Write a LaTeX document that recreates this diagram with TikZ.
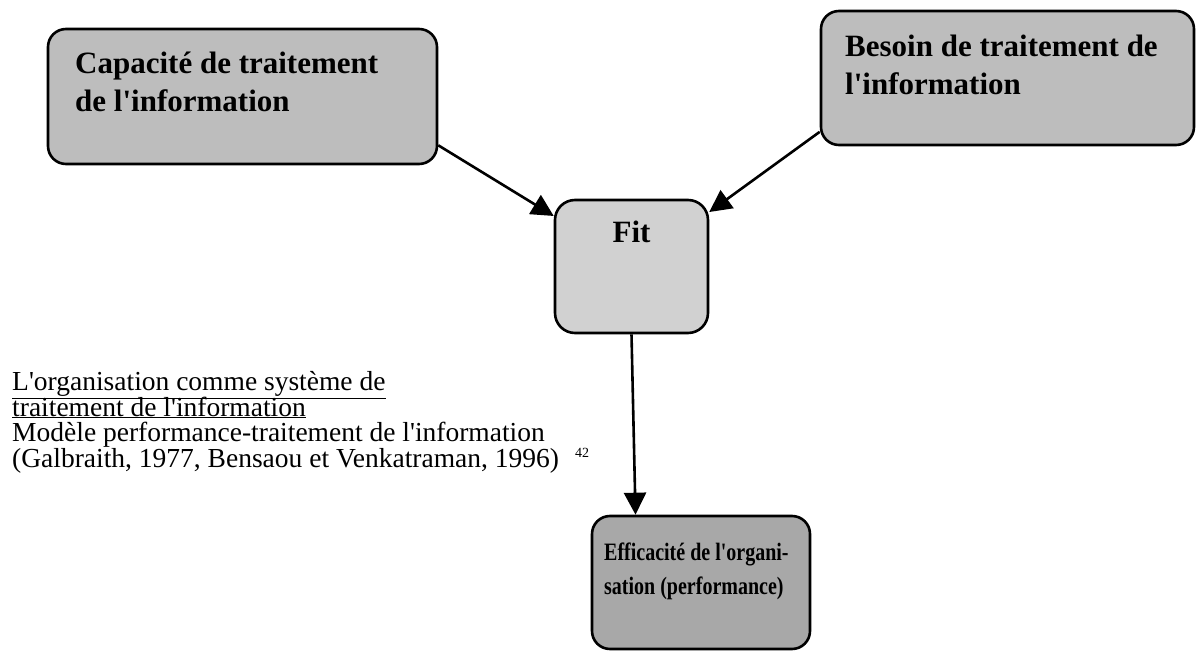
\documentclass[tikz,border=0pt]{standalone}
\usepackage{fontspec}
\setmainfont{Liberation Serif}[Ligatures=TeXOff]
\newfontfamily\condserif{Liberation Serif}[Ligatures=TeXOff,FakeStretch=0.8]
\usetikzlibrary{arrows.meta}
\begin{document}
\begin{tikzpicture}[x=1pt,y=-1pt,
  boxshape/.style={draw=black, line width=2.6pt, rounded corners=18pt, inner sep=0pt},
  boxtext/.style={anchor=base west, inner sep=0pt, font=\fontsize{31}{38}\selectfont\bfseries, align=left},
  conn/.style={line width=2.6pt, -{Triangle[length=22pt,width=22pt]}}]
\useasboundingbox (0,0) rectangle (1197,652);
\node[boxshape, fill=black!26, minimum width=389pt, minimum height=135pt] (cap) at (242.5,96.5) {};
\node[boxshape, fill=black!26, minimum width=373pt, minimum height=134pt] (bes) at (1007.5,78) {};
\node[boxshape, fill=black!18, minimum width=153pt, minimum height=133pt, rounded corners=20pt] (fit) at (631.5,266.5) {};
\node[boxshape, fill=black!34, minimum width=218pt, minimum height=133pt] (eff) at (701,582.5) {};
\node[boxtext] (captext) at (75,112) {Capacité de traitement\\de l'information};
\node[boxtext] (bestext) at (845,95) {Besoin de traitement de\\l'information};
\node[boxtext, anchor=base] (fittext) at (631.5,243) {Fit};
\node[boxtext, font=\fontsize{25}{34}\condserif\bfseries] (efftext) at (604,594) {Efficacité de l'organi-\\sation (performance)};
\node[anchor=base west, inner sep=0pt, font={\fontsize{27.5}{25.5}\selectfont\lineskiplimit=-20pt\relax}, align=left] (caption) at (12,467)
  {\underline{L'organisation comme système de}\\\underline{traitement de l'information}\\Modèle performance-traitement de l'information\\(Galbraith, 1977, Bensaou et Venkatraman, 1996)};
\node[anchor=base west, inner sep=0pt, font=\fontsize{14}{14}\selectfont] (ref) at (575,457) {42};
\draw[conn] (cap.-14) -- (fit.147);
\draw[conn] (bes.196) -- (fit.35);
\draw[conn] (fit.south) -- (eff.134.4);
\end{tikzpicture}
\end{document}
